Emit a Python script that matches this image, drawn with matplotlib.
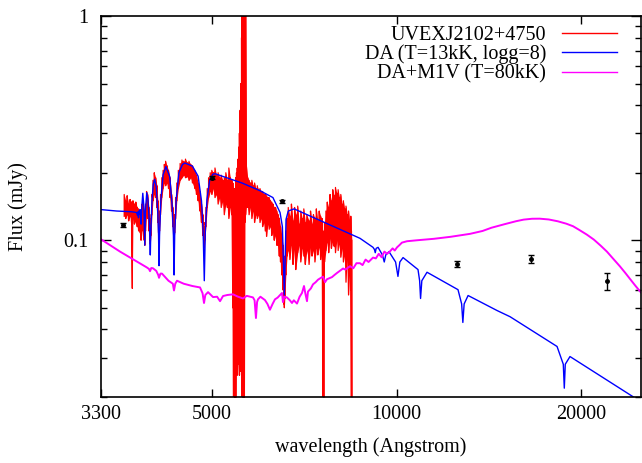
import matplotlib
matplotlib.use("Agg")
import matplotlib.pyplot as plt
import numpy as np
from matplotlib.lines import Line2D
from matplotlib.ticker import FixedLocator, LogLocator, NullFormatter, NullLocator

plt.rcParams["font.family"] = ["Liberation Serif", "DejaVu Serif"]

# ---------------------------------------------------------------------------
# Data
# ---------------------------------------------------------------------------

# observed spectrum: wavelength, lower and upper envelope of the noisy trace
red_wave = [3600, 3620, 3640, 3660, 3680, 3700, 3711, 3720, 3740, 3760, 3780,
            3800, 3820, 3835, 3850, 3865, 3880, 3889, 3900, 3915, 3930, 3950,
            3962, 3970, 3980, 3995, 4010, 4030, 4050, 4070, 4085, 4095, 4102,
            4110, 4125, 4145, 4165, 4185, 4205, 4225, 4250, 4275, 4300, 4320,
            4333, 4340, 4350, 4365, 4385, 4410, 4440, 4470, 4500, 4530, 4560,
            4590, 4620, 4650, 4690, 4720, 4750, 4780, 4810, 4835, 4852, 4861,
            4872, 4890, 4915, 4940, 4970, 5000, 5030, 5060, 5090, 5120, 5150,
            5180, 5210, 5240, 5270, 5300, 5330, 5360, 5390, 5410, 5425, 5440,
            5455, 5470, 5485, 5500, 5515, 5530, 5545, 5560, 5575, 5590, 5600,
            5612, 5625, 5637, 5650, 5662, 5675, 5690, 5720, 5750, 5780, 5810,
            5840, 5870, 5900, 5930, 5960, 5990, 6020, 6050, 6080, 6110, 6140,
            6170, 6200, 6230, 6260, 6290, 6320, 6350, 6380, 6410, 6440, 6470,
            6500, 6530, 6550, 6563, 6575, 6600, 6630, 6660, 6700, 6740, 6780,
            6820, 6850, 6900, 6940, 6980, 7020, 7060, 7100, 7140, 7200, 7240,
            7280, 7320, 7360, 7400, 7440, 7480, 7520, 7560, 7590, 7610, 7630,
            7670, 7710, 7750, 7790, 7830, 7870, 7910, 7950, 7990, 8030, 8070,
            8110, 8150, 8190, 8230, 8270, 8310, 8350, 8390, 8420, 8440, 8450]
red_lo = [0.128, 0.125, 0.130, 0.122, 0.128, 0.120, 0.061, 0.125, 0.118, 0.122, 0.115,
          0.110, 0.108, 0.100, 0.110, 0.120, 0.100, 0.095, 0.110, 0.130, 0.125, 0.110,
          0.100, 0.096, 0.105, 0.130, 0.150, 0.160, 0.155, 0.140, 0.120, 0.108, 0.104,
          0.110, 0.130, 0.155, 0.170, 0.180, 0.175, 0.180, 0.170, 0.155, 0.135, 0.115,
          0.105, 0.100, 0.108, 0.125, 0.150, 0.170, 0.185, 0.190, 0.195, 0.190, 0.192,
          0.185, 0.190, 0.180, 0.170, 0.160, 0.150, 0.135, 0.120, 0.105, 0.095, 0.093,
          0.100, 0.115, 0.140, 0.155, 0.165, 0.160, 0.170, 0.155, 0.160, 0.145, 0.155,
          0.140, 0.150, 0.130, 0.145, 0.140, 0.125, 0.140, 0.130, 0.050, 0.015, 0.015,
          0.015, 0.015, 0.030, 0.025, 0.028, 0.030, 0.025, 0.030, 0.026, 0.025, 0.015,
          0.015, 0.015, 0.015, 0.015, 0.120, 0.130, 0.140, 0.140, 0.130, 0.140, 0.125,
          0.135, 0.120, 0.130, 0.125, 0.130, 0.120, 0.125, 0.115, 0.120, 0.110, 0.104,
          0.118, 0.112, 0.115, 0.105, 0.110, 0.100, 0.105, 0.095, 0.095, 0.085, 0.080,
          0.070, 0.060, 0.052, 0.050, 0.055, 0.070, 0.085, 0.090, 0.082, 0.095, 0.078,
          0.092, 0.074, 0.088, 0.095, 0.080, 0.092, 0.085, 0.078, 0.090, 0.078, 0.093,
          0.085, 0.090, 0.080, 0.092, 0.086, 0.093, 0.082, 0.088, 0.015, 0.015, 0.080,
          0.090, 0.098, 0.088, 0.102, 0.092, 0.100, 0.094, 0.088, 0.100, 0.090, 0.096,
          0.084, 0.092, 0.080, 0.086, 0.065, 0.082, 0.057, 0.075, 0.060, 0.015, 0.015]
red_hi = [0.160, 0.150, 0.158, 0.145, 0.152, 0.148, 0.140, 0.150, 0.145, 0.148, 0.140,
          0.138, 0.135, 0.130, 0.145, 0.150, 0.135, 0.120, 0.145, 0.165, 0.160, 0.140,
          0.125, 0.115, 0.130, 0.160, 0.185, 0.200, 0.190, 0.175, 0.150, 0.130, 0.118,
          0.135, 0.160, 0.190, 0.205, 0.218, 0.225, 0.215, 0.205, 0.190, 0.160, 0.140,
          0.125, 0.115, 0.130, 0.155, 0.180, 0.205, 0.220, 0.228, 0.225, 0.230, 0.222,
          0.225, 0.218, 0.215, 0.205, 0.195, 0.180, 0.165, 0.145, 0.130, 0.115, 0.108,
          0.120, 0.140, 0.170, 0.190, 0.200, 0.205, 0.200, 0.210, 0.195, 0.200, 0.190,
          0.195, 0.185, 0.190, 0.200, 0.185, 0.210, 0.190, 0.185, 0.180, 0.160, 0.170,
          0.150, 0.190, 0.200, 0.210, 0.230, 0.260, 0.300, 0.380, 0.500, 0.800, 1.200,
          1.500, 1.500, 1.200, 1.500, 1.500, 1.500, 0.220, 0.190, 0.185, 0.180, 0.185,
          0.175, 0.180, 0.170, 0.175, 0.168, 0.170, 0.165, 0.165, 0.160, 0.160, 0.158,
          0.155, 0.155, 0.150, 0.148, 0.145, 0.140, 0.140, 0.135, 0.130, 0.125, 0.115,
          0.105, 0.095, 0.080, 0.070, 0.085, 0.110, 0.125, 0.140, 0.128, 0.145, 0.122,
          0.140, 0.130, 0.142, 0.118, 0.135, 0.125, 0.138, 0.120, 0.130, 0.122, 0.135,
          0.118, 0.130, 0.125, 0.138, 0.122, 0.135, 0.128, 0.125, 0.100, 0.110, 0.120,
          0.135, 0.148, 0.140, 0.160, 0.150, 0.168, 0.158, 0.172, 0.162, 0.168, 0.155,
          0.160, 0.145, 0.150, 0.138, 0.142, 0.130, 0.135, 0.120, 0.128, 0.110, 0.100]

# DA white dwarf model, T=13kK, logg=8
da_wave = [3300, 3500, 3700, 3770, 3785, 3793, 3798, 3803, 3812, 3820, 3828,
           3835, 3845, 3860, 3875, 3889, 3898, 3918, 3935, 3955, 3965, 3970,
           3976, 3995, 4015, 4036, 4060, 4085, 4095, 4102, 4110, 4130, 4165,
           4210, 4270, 4310, 4330, 4340, 4350, 4375, 4420, 4480, 4521, 4650,
           4750, 4810, 4840, 4861, 4880, 4910, 4960, 5020, 5061, 5600, 6000,
           6288, 6458, 6515, 6563, 6605, 6660, 6807, 8716, 9151, 9200, 9229,
           9260, 9327, 9480, 9546, 9600, 9716, 9960, 10049, 10120, 10243, 10834,
           10900, 10938, 10990, 11206, 12587, 12760, 12818, 12880, 13072, 14572,
           15302, 18248, 18680, 18751, 18820, 19156, 24445, 25000]
da_flux = [0.137, 0.135, 0.134, 0.133, 0.129, 0.134, 0.126, 0.135, 0.131, 0.137, 0.130,
           0.118, 0.140, 0.162, 0.142, 0.095, 0.135, 0.163, 0.152, 0.122, 0.100, 0.086,
           0.105, 0.150, 0.178, 0.187, 0.172, 0.130, 0.105, 0.077, 0.105, 0.150, 0.196,
           0.213, 0.192, 0.142, 0.105, 0.070, 0.105, 0.152, 0.200, 0.218, 0.221, 0.214,
           0.193, 0.150, 0.110, 0.066, 0.110, 0.152, 0.185, 0.197, 0.198, 0.180, 0.166,
           0.155, 0.133, 0.115, 0.057, 0.124, 0.135, 0.138, 0.102, 0.093, 0.091, 0.088,
           0.092, 0.093, 0.086, 0.080, 0.086, 0.089, 0.080, 0.069, 0.080, 0.0837, 0.074,
           0.066, 0.055, 0.066, 0.072, 0.0602, 0.052, 0.043, 0.052, 0.0567, 0.0486,
           0.0456, 0.0336, 0.028, 0.0219, 0.028, 0.0303, 0.0198, 0.0192]

# composite DA + M1V model, T=80kK
dam_wave = [3300, 3544, 3917, 3950, 3966, 3985, 4010, 4060, 4090, 4102, 4125,
            4148, 4250, 4320, 4339, 4360, 4388, 4500, 4650, 4784, 4830, 4856,
            4880, 4930, 5023, 5100, 5157, 5215, 5300, 5414, 5500, 5620, 5700,
            5835, 5870, 5900, 5925, 5945, 6000, 6103, 6160, 6218, 6280, 6336,
            6400, 6505, 6529, 6563, 6627, 6700, 6754, 6800, 6882, 6950, 7012,
            7065, 7100, 7145, 7171, 7250, 7308, 7380, 7446, 7530, 7588, 7644,
            7700, 7847, 7920, 7997, 8080, 8178, 8250, 8396, 8500, 8600, 8716,
            8800, 8900, 9000, 9152, 9250, 9350, 9450, 9550, 9650, 9752, 9850,
            9930, 10011, 10100, 10200, 10395, 10800, 11500, 12239, 13168, 13800,
            14267, 15000, 15650, 16100, 16615, 17100, 17686, 18300, 18900, 19374,
            19800, 20400, 20946, 21500, 22000, 22596, 23100, 23600, 24044, 24500,
            25000]
dam_flux = [0.101, 0.0890, 0.0757, 0.0745, 0.0728, 0.0752, 0.0750, 0.0730, 0.0700, 0.0680, 0.0710,
            0.0710, 0.0660, 0.0640, 0.0597, 0.0640, 0.0660, 0.0640, 0.0625, 0.0616, 0.0580, 0.0525,
            0.0570, 0.0587, 0.0558, 0.0560, 0.0535, 0.0564, 0.0570, 0.0574, 0.0562, 0.0550, 0.0565,
            0.0556, 0.0540, 0.0450, 0.0530, 0.0545, 0.0560, 0.0541, 0.0520, 0.0490, 0.0520, 0.0545,
            0.0555, 0.0582, 0.0530, 0.0560, 0.0556, 0.0540, 0.0525, 0.0540, 0.0522, 0.0560, 0.0582,
            0.0625, 0.0580, 0.0535, 0.0590, 0.0610, 0.0636, 0.0650, 0.0667, 0.0680, 0.0688, 0.0650,
            0.0670, 0.0685, 0.0700, 0.0715, 0.0730, 0.0748, 0.0740, 0.0766, 0.0750, 0.0790, 0.0790,
            0.0775, 0.0820, 0.0800, 0.0837, 0.0830, 0.0870, 0.0840, 0.0890, 0.0870, 0.0892, 0.0920,
            0.0900, 0.0929, 0.0950, 0.0976, 0.0990, 0.1000, 0.1015, 0.1036, 0.1068, 0.1100,
            0.1137, 0.1180, 0.1216, 0.1236, 0.1247, 0.1248, 0.1238, 0.1215, 0.1185, 0.1155,
            0.1115, 0.1060, 0.1007, 0.0945, 0.0890, 0.0819, 0.0765, 0.0712, 0.0667, 0.0625,
            0.0585]

# photometry with errors
phot_wave = [3588, 4998, 6497, 12527, 16532, 22032]
phot_flux = [0.117, 0.190, 0.149, 0.0784, 0.0825, 0.0657]
phot_err  = [0.002, 0.003, 0.002, 0.0024, 0.0032, 0.0059]

LABELS = ["UVEXJ2102+4750", "DA (T=13kK, logg=8)", "DA+M1V (T=80kK)"]
COLOURS = ["#ff0000", "#0000ff", "#ff00ff"]

xtick_vals = [3300, 5000, 10000, 20000]
ytick_vals = [0.1, 1]

# ---------------------------------------------------------------------------
# Plot
# ---------------------------------------------------------------------------

fig = plt.figure(figsize=(6.42, 4.63), dpi=100)
ax = fig.add_axes([101 / 642, 66 / 463, 540 / 642, 381 / 463])

# noisy spectrum: band between envelopes plus a zigzag trace through it
ax.fill_between(red_wave, red_lo, red_hi, color=COLOURS[0], lw=0)
zig_x = np.repeat(red_wave, 2)
zig_y = np.column_stack([red_lo, red_hi]).ravel()
ax.plot(zig_x, zig_y, color=COLOURS[0], lw=0.9)

ax.plot(da_wave, da_flux, color=COLOURS[1], lw=1.0)
ax.plot(dam_wave, dam_flux, color=COLOURS[2], lw=1.4)
ax.errorbar(phot_wave, phot_flux, yerr=phot_err, fmt="o", color="black",
            ms=2.5, lw=1.0, capsize=2.5, capthick=1.0)

ax.set_xscale("log")
ax.set_yscale("log")
ax.set_xlim(3300, 25000)
ax.set_ylim(0.02, 1)

ax.xaxis.set_major_locator(FixedLocator(xtick_vals))
ax.set_xticklabels([str(v) for v in xtick_vals])
ax.xaxis.set_minor_locator(NullLocator())
ax.yaxis.set_major_locator(FixedLocator(ytick_vals))
ax.set_yticklabels(["0.1", "1"])
ax.yaxis.set_minor_locator(LogLocator(base=10, subs=np.arange(2, 10)))
ax.yaxis.set_minor_formatter(NullFormatter())

ax.tick_params(which="both", direction="in", top=True, right=True,
               labelsize=14.5, width=1.0)
ax.tick_params(axis="x", which="major", length=6, pad=6)
ax.tick_params(axis="y", which="major", length=7, pad=9)
ax.tick_params(axis="y", which="minor", length=4)
for sp in ax.spines.values():
    sp.set_linewidth(1.2)

ax.set_xlabel("wavelength (Angstrom)", fontsize=14.5)
ax.set_ylabel("Flux (mJy)", fontsize=14.5)
ax.xaxis.set_label_coords(0.5, -0.132)
ax.xaxis.label.set_va("center")
ax.yaxis.set_label_coords(-0.153, 0.5)
ax.yaxis.label.set_va("center")

handles = [Line2D([], [], color=c, lw=1.0) for c in COLOURS]
ax.legend(handles, LABELS, loc="upper right", bbox_to_anchor=(0.955, 0.975),
          frameon=False, markerfirst=False, fontsize=14.5, handlelength=2.7,
          handletextpad=0.8, labelspacing=0.0, borderaxespad=0.0, borderpad=0.0)

fig.savefig("out.png", dpi=100)
